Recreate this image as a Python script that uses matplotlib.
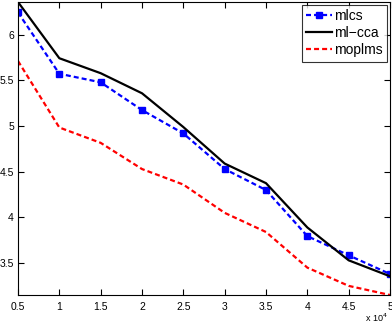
import numpy as np
import matplotlib
matplotlib.use('Agg')
import matplotlib.pyplot as plt

# training set size (x 10^4 on the axis)
n_samples = [5000, 10000, 15000, 20000, 25000, 30000, 35000, 40000, 45000, 50000]

mlcs = [6.245, 5.574, 5.48, 5.176, 4.92, 4.53, 4.30, 3.795, 3.585, 3.38]
ml_cca = [6.36, 5.744, 5.58, 5.36, 4.99, 4.59, 4.375, 3.89, 3.53, 3.355]
moplms = [5.714, 4.985, 4.817, 4.53, 4.36, 4.05, 3.84, 3.45, 3.25, 3.15]

xticks = [0.5, 1, 1.5, 2, 2.5, 3, 3.5, 4, 4.5, 5]
xtick_labels = ['0.5', '1', '1.5', '2', '2.5', '3', '3.5', '4', '4.5', '5']
yticks = [3.5, 4, 4.5, 5, 5.5, 6]
ytick_labels = ['3.5', '4', '4.5', '5', '5.5', '6']

plt.rcParams['font.family'] = ['Liberation Sans', 'DejaVu Sans']
plt.rcParams['lines.scale_dashes'] = False

x = np.array(n_samples) / 1e4

fig = plt.figure(figsize=(3.92, 3.24), dpi=100)
ax = fig.add_axes([18 / 392, 29 / 324, 372 / 392, 293 / 324])

dash = (0, (3.6, 2.2))
ax.plot(x, mlcs, color='#0000ff', linestyle=dash, linewidth=1.6,
        marker='s', markersize=4.5, label='mlcs')
ax.plot(x, ml_cca, color='black', linestyle='-', linewidth=1.6, label='ml\u2212cca')
ax.plot(x, moplms, color='#ff0000', linestyle=dash, linewidth=1.6,
        label='moplms')

ax.set_xlim(min(x), max(x))
ax.set_ylim(min(moplms), max(ml_cca))
ax.set_xticks(xticks)
ax.set_xticklabels(xtick_labels)
ax.set_yticks(yticks)
ax.set_yticklabels(ytick_labels)
ax.tick_params(direction='in', top=True, right=True, length=4, width=0.8,
               labelsize=7.5)
ax.tick_params(axis='x', pad=5)
ax.tick_params(axis='y', pad=3)
for s in ax.spines.values():
    s.set_linewidth(0.8)

leg = ax.legend(loc='upper right', fontsize=10, frameon=True, fancybox=False,
                edgecolor='black', borderpad=0.3, labelspacing=0.22,
                handlelength=1.9, handletextpad=0.15, borderaxespad=0.22)
leg.get_frame().set_linewidth(0.8)

fig.text(365 / 392, 1 - 318 / 324, r'x 10$^4$', fontsize=6.5, va='center', ha='left')

fig.savefig('out.png', dpi=100)
